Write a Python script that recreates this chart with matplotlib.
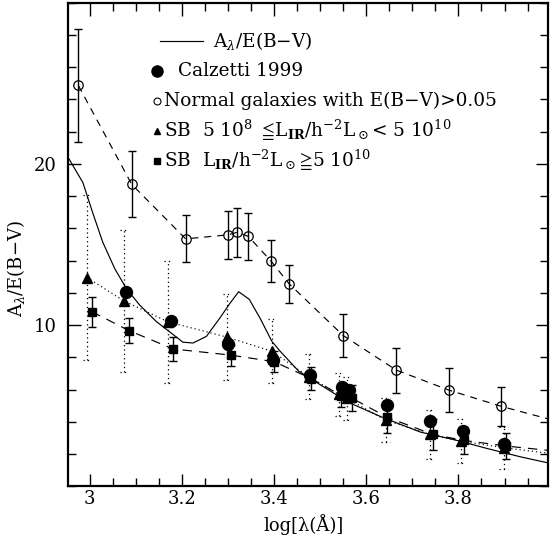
import numpy as np
import matplotlib
matplotlib.use("Agg")
import matplotlib.pyplot as plt
from matplotlib.ticker import FixedLocator, MultipleLocator

plt.rcParams['font.family'] = ['DejaVu Serif', 'DejaVu Sans']
plt.rcParams['mathtext.fontset'] = 'dejavuserif'

# extinction curve A_lambda/E(B-V)
curve_x = [2.955, 2.985, 3.006, 3.028, 3.054, 3.079, 3.108, 3.144, 3.181, 3.202,
           3.224, 3.253, 3.282, 3.304, 3.323, 3.346, 3.370, 3.395, 3.413, 3.453,
           3.504, 3.562, 3.635, 3.718, 3.791, 3.863, 3.936, 3.995]
curve_y = [20.3, 18.84, 16.99, 15.15, 13.51, 12.28, 11.25, 10.23, 9.41, 8.94,
           8.89, 9.30, 10.43, 11.35, 12.07, 11.60, 10.40, 9.00, 8.38, 7.15,
           6.23, 5.20, 4.28, 3.36, 2.89, 2.34, 1.82, 1.45]

# Calzetti 1999
cal_x = [3.079, 3.176, 3.300, 3.397, 3.477, 3.547, 3.563, 3.646, 3.738, 3.810, 3.898]
cal_y = [12.03, 10.27, 8.83, 7.81, 6.89, 6.13, 5.98, 5.04, 4.03, 3.42, 2.62]

# normal galaxies with E(B-V)>0.05
norm_x = [2.975, 3.091, 3.208, 3.300, 3.320, 3.344, 3.393, 3.433, 3.550, 3.665, 3.780, 3.893]
norm_y = [24.87, 18.73, 15.35, 15.60, 15.76, 15.50, 13.98, 12.55, 9.35, 7.21, 5.96, 4.96]
norm_err = [3.5, 2.05, 1.45, 1.5, 1.52, 1.47, 1.28, 1.17, 1.33, 1.4, 1.37, 1.22]
norm_end = (3.995, 4.18)

# SB 5e8 <= L_IR < 5e10
tri_x = [2.994, 3.074, 3.170, 3.297, 3.395, 3.475, 3.541, 3.558, 3.642, 3.738, 3.805, 3.898]
tri_y = [12.95, 11.50, 10.20, 9.26, 8.38, 6.80, 5.70, 5.45, 4.10, 3.22, 2.80, 2.40]
tri_err = [5.1, 4.42, 3.8, 2.66, 2.0, 1.4, 1.35, 1.33, 1.37, 1.5, 1.35, 1.3]
tri_end = (3.995, 2.05)

# SB L_IR >= 5e10
sq_x = [3.004, 3.085, 3.181, 3.306, 3.400, 3.481, 3.546, 3.569, 3.646, 3.744, 3.811, 3.903]
sq_y = [10.84, 9.66, 8.52, 8.14, 7.73, 6.68, 5.63, 5.46, 4.28, 3.22, 2.85, 2.50]
sq_err = [0.93, 0.79, 0.72, 0.65, 0.65, 0.7, 0.7, 0.81, 0.98, 0.94, 0.86, 0.8]
sq_end = (3.995, 2.23)

xticks = [3.0, 3.2, 3.4, 3.6, 3.8]
xticklabels = ['3', '3.2', '3.4', '3.6', '3.8']
yticks = [10, 20]
yticklabels = ['10', '20']

fig = plt.figure(figsize=(5.5, 5.43), dpi=100)
ax = fig.add_axes([0.1231, 0.1044, 0.8738, 0.8906])

lw = 0.85
ax.plot(curve_x, curve_y, color='k', lw=lw, zorder=2)

# connecting lines
ax.plot(norm_x + [norm_end[0]], norm_y + [norm_end[1]], color='k', lw=lw,
        dashes=(6, 5), zorder=2)
ax.plot(tri_x + [tri_end[0]], tri_y + [tri_end[1]], color='k', lw=lw,
        dashes=(1, 2.5), zorder=2)
ax.plot(sq_x + [sq_end[0]], sq_y + [sq_end[1]], color='k', lw=lw,
        dashes=(8, 6), zorder=2)

# error bars
ax.errorbar(norm_x, norm_y, yerr=norm_err, fmt='none', ecolor='k', elinewidth=1.0,
            capsize=2.8, capthick=1.0, zorder=3)
ax.errorbar(sq_x, sq_y, yerr=sq_err, fmt='none', ecolor='k', elinewidth=1.0,
            capsize=2.6, capthick=1.0, zorder=3)
tx = np.array(tri_x)
ty = np.array(tri_y)
te = np.array(tri_err)
ax.vlines(tx, ty - te, ty + te, color='k', lw=0.9, linestyles=(0, (1, 2.5)), zorder=3)
cap = 0.009
ax.hlines(ty - te, tx - cap, tx + cap, color='k', lw=0.9, linestyles=(0, (1, 2.5)), zorder=3)
ax.hlines(ty + te, tx - cap, tx + cap, color='k', lw=0.9, linestyles=(0, (1, 2.5)), zorder=3)

# markers
ax.plot(norm_x, norm_y, 'o', ms=6.8, mfc='none', mec='k', mew=0.9, zorder=4)
ax.plot(tri_x, tri_y, '^', ms=6.5, color='k', zorder=4)
ax.plot(sq_x, sq_y, 's', ms=5.5, color='k', zorder=4)
ax.plot(cal_x, cal_y, 'o', ms=8.6, color='k', zorder=5)

ax.set_xlim(2.952, 3.995)
ax.set_ylim(0, 30)
ax.xaxis.set_major_locator(FixedLocator(xticks))
ax.set_xticklabels(xticklabels)
ax.xaxis.set_minor_locator(MultipleLocator(0.05))
ax.yaxis.set_major_locator(FixedLocator(yticks))
ax.set_yticklabels(yticklabels)
ax.yaxis.set_minor_locator(MultipleLocator(2))
ax.tick_params(which='both', direction='in', top=True, right=True,
               labelsize=13, width=1.0)
ax.tick_params(which='major', length=9)
ax.tick_params(which='minor', length=5.5)
ax.tick_params(axis='x', which='major', pad=3)
ax.tick_params(axis='y', which='major', pad=8)
for s in ax.spines.values():
    s.set_linewidth(1.6)

ax.set_xlabel('log[λ(Å)]', fontsize=13)
ax.set_ylabel('A$_\\lambda$/E(B−V)', fontsize=13)
ax.xaxis.set_label_coords(0.49, -0.058)
ax.yaxis.set_label_coords(-0.085, 0.45)

# legend drawn by hand
rows = [0.92, 0.859, 0.797, 0.735, 0.673]
fs = 13.3
ax.plot([0.192, 0.281], [rows[0], rows[0]], color='k', lw=lw, transform=ax.transAxes)
ax.text(0.302, rows[0], 'A$_\\lambda$/E(B−V)', fontsize=fs, va='center', transform=ax.transAxes)
ax.plot([0.186], [rows[1]], 'o', ms=8, color='k', transform=ax.transAxes)
ax.text(0.229, rows[1], 'Calzetti 1999', fontsize=fs, va='center', transform=ax.transAxes)
ax.plot([0.186], [rows[2]], 'o', ms=5, mfc='none', mec='k', mew=0.8, transform=ax.transAxes)
ax.text(0.2, rows[2], 'Normal galaxies with E(B−V)>0.05', fontsize=fs, va='center',
        transform=ax.transAxes)
ax.plot([0.186], [rows[3]], '^', ms=5, color='k', transform=ax.transAxes)
ax.text(0.2, rows[3], 'SB  5 10$^8$ $\\leqq\\!$L$_{\\bf IR}$/h$^{-2}$L$_\\odot$< 5 10$^{10}$',
        fontsize=fs, va='center', transform=ax.transAxes)
ax.plot([0.186], [rows[4]], 's', ms=4.5, color='k', transform=ax.transAxes)
ax.text(0.2, rows[4], 'SB  L$_{\\bf IR}$/h$^{-2}$L$_\\odot$$\\!\\geqq\\!$5 10$^{10}$',
        fontsize=fs, va='center', transform=ax.transAxes)

fig.savefig('out.png', dpi=100)
